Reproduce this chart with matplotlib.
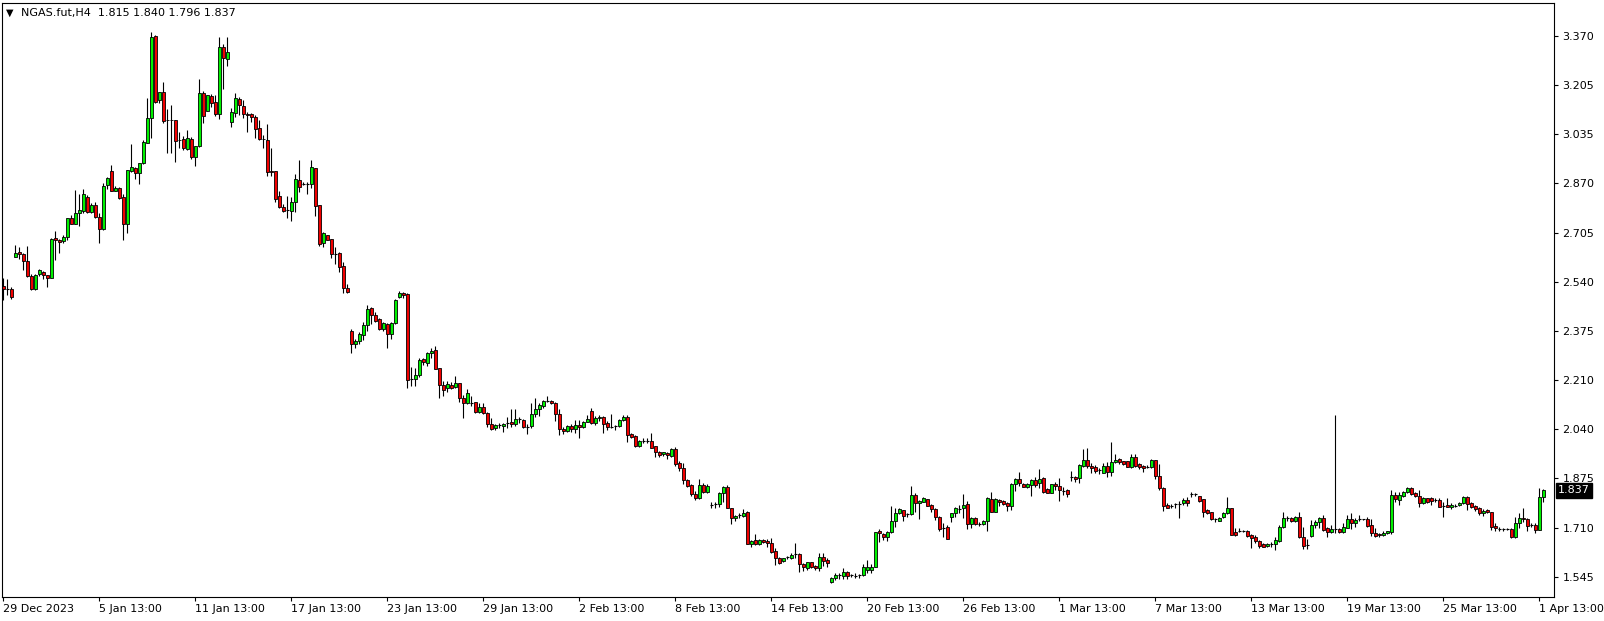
import matplotlib
matplotlib.use("Agg")
import matplotlib.pyplot as plt
import matplotlib.transforms as mtransforms
import numpy as np

# H4 candles, NGAS.fut (one row = 10 bars)
opens = [
    2.527, 2.515, 2.515, 2.625, 2.640, 2.633, 2.609, 2.560, 2.515, 2.567,
    2.574, 2.562, 2.554, 2.687, 2.681, 2.677, 2.690, 2.754, 2.734, 2.771,
    2.780, 2.826, 2.777, 2.798, 2.760, 2.720, 2.866, 2.914, 2.845, 2.856,
    2.826, 2.734, 2.915, 2.923, 2.906, 2.942, 3.010, 3.092, 3.369, 3.153,
    3.179, 3.086, 3.086, 3.086, 3.019, 3.022, 2.988, 3.022, 2.960, 2.998,
    3.176, 3.117, 3.168, 3.146, 3.105, 3.333, 3.292, 3.080, 3.108, 3.157,
    3.133, 3.107, 3.106, 3.097, 3.058, 3.023, 3.019, 2.914, 2.914, 2.830,
    2.791, 2.783, 2.780, 2.810, 2.884, 2.871, 2.871, 2.869, 2.925, 2.799,
    2.670, 2.697, 2.684, 2.635, 2.636, 2.595, 2.518, 2.374, 2.329, 2.341,
    2.361, 2.395, 2.451, 2.428, 2.415, 2.380, 2.398, 2.363, 2.402, 2.490,
    2.504, 2.499, 2.211, 2.211, 2.226, 2.279, 2.265, 2.299, 2.310, 2.248,
    2.192, 2.181, 2.192, 2.184, 2.198, 2.147, 2.130, 2.133, 2.134, 2.102,
    2.117, 2.099, 2.060, 2.046, 2.057, 2.054, 2.063, 2.066, 2.060, 2.076,
    2.074, 2.052, 2.054, 2.093, 2.110, 2.121, 2.138, 2.138, 2.131, 2.093,
    2.044, 2.038, 2.054, 2.043, 2.057, 2.049, 2.069, 2.105, 2.063, 2.082,
    2.084, 2.063, 2.049, 2.055, 2.055, 2.074, 2.084, 2.026, 2.021, 1.986,
    2.004, 2.003, 2.003, 1.986, 1.967, 1.958, 1.964, 1.954, 1.975, 1.928,
    1.913, 1.872, 1.855, 1.825, 1.810, 1.855, 1.830, 1.787, 1.790, 1.790,
    1.827, 1.847, 1.776, 1.742, 1.754, 1.750, 1.764, 1.655, 1.669, 1.656,
    1.669, 1.666, 1.658, 1.633, 1.608, 1.599, 1.611, 1.608, 1.621, 1.622,
    1.587, 1.574, 1.594, 1.583, 1.574, 1.611, 1.602, 1.527, 1.540, 1.551,
    1.549, 1.560, 1.551, 1.549, 1.551, 1.551, 1.568, 1.568, 1.577, 1.700,
    1.690, 1.678, 1.695, 1.733, 1.759, 1.771, 1.756, 1.757, 1.821, 1.793,
    1.799, 1.807, 1.787, 1.773, 1.748, 1.711, 1.712, 1.748, 1.759, 1.773,
    1.776, 1.790, 1.722, 1.745, 1.723, 1.723, 1.734, 1.808, 1.765, 1.804,
    1.801, 1.795, 1.785, 1.857, 1.875, 1.858, 1.849, 1.855, 1.872, 1.860,
    1.877, 1.840, 1.829, 1.858, 1.851, 1.836, 1.838, 1.881, 1.881, 1.877,
    1.920, 1.939, 1.919, 1.914, 1.905, 1.896, 1.919, 1.898, 1.931, 1.941,
    1.936, 1.936, 1.914, 1.948, 1.926, 1.919, 1.914, 1.917, 1.939, 1.885,
    1.844, 1.787, 1.784, 1.790, 1.791, 1.793, 1.804, 1.823, 1.823, 1.818,
    1.807, 1.771, 1.763, 1.739, 1.735, 1.746, 1.759, 1.776, 1.695, 1.701,
    1.701, 1.700, 1.686, 1.678, 1.667, 1.655, 1.649, 1.656, 1.655, 1.667,
    1.712, 1.742, 1.745, 1.735, 1.746, 1.678, 1.653, 1.683, 1.720, 1.729,
    1.742, 1.709, 1.695, 1.705, 1.706, 1.697, 1.711, 1.740, 1.726, 1.739,
    1.739, 1.740, 1.720, 1.692, 1.688, 1.686, 1.692, 1.697, 1.821, 1.804,
    1.819, 1.830, 1.844, 1.829, 1.819, 1.793, 1.810, 1.812, 1.804, 1.804,
    1.785, 1.786, 1.780, 1.784, 1.787, 1.793, 1.816, 1.793, 1.784, 1.776,
    1.759, 1.771, 1.763, 1.717, 1.705, 1.705, 1.706, 1.705, 1.681, 1.726,
    1.742, 1.739, 1.720, 1.720, 1.703, 1.815,
]
highs = [
    2.552, 2.549, 2.522, 2.664, 2.657, 2.636, 2.660, 2.567, 2.566, 2.585,
    2.578, 2.562, 2.689, 2.710, 2.685, 2.698, 2.754, 2.764, 2.850, 2.836,
    2.852, 2.833, 2.807, 2.811, 2.771, 2.872, 2.895, 2.934, 2.863, 2.861,
    2.836, 2.917, 3.005, 2.929, 2.942, 3.019, 3.160, 3.383, 3.373, 3.182,
    3.214, 3.122, 3.137, 3.086, 3.047, 3.032, 3.052, 3.028, 2.998, 3.223,
    3.185, 3.170, 3.174, 3.172, 3.365, 3.342, 3.365, 3.125, 3.176, 3.165,
    3.153, 3.114, 3.108, 3.103, 3.086, 3.036, 3.073, 2.991, 2.914, 2.847,
    2.803, 2.830, 2.826, 2.904, 2.951, 2.878, 2.876, 2.951, 2.925, 2.799,
    2.707, 2.697, 2.684, 2.657, 2.640, 2.606, 2.532, 2.381, 2.347, 2.370,
    2.404, 2.462, 2.456, 2.437, 2.419, 2.406, 2.400, 2.406, 2.482, 2.509,
    2.507, 2.501, 2.254, 2.251, 2.282, 2.282, 2.302, 2.318, 2.324, 2.248,
    2.206, 2.204, 2.201, 2.224, 2.198, 2.159, 2.179, 2.156, 2.136, 2.130,
    2.130, 2.100, 2.080, 2.061, 2.065, 2.065, 2.085, 2.110, 2.110, 2.083,
    2.076, 2.060, 2.130, 2.147, 2.130, 2.142, 2.155, 2.143, 2.134, 2.111,
    2.052, 2.057, 2.060, 2.074, 2.074, 2.071, 2.091, 2.116, 2.088, 2.091,
    2.088, 2.071, 2.094, 2.057, 2.077, 2.091, 2.091, 2.029, 2.024, 2.007,
    2.012, 2.015, 2.029, 1.986, 1.971, 1.967, 1.967, 1.979, 1.983, 1.936,
    1.928, 1.875, 1.858, 1.835, 1.874, 1.861, 1.857, 1.799, 1.799, 1.830,
    1.852, 1.855, 1.776, 1.754, 1.759, 1.774, 1.767, 1.669, 1.688, 1.672,
    1.672, 1.673, 1.677, 1.641, 1.613, 1.610, 1.615, 1.624, 1.658, 1.624,
    1.593, 1.596, 1.596, 1.585, 1.624, 1.627, 1.608, 1.543, 1.559, 1.559,
    1.574, 1.565, 1.555, 1.557, 1.555, 1.588, 1.602, 1.588, 1.697, 1.705,
    1.694, 1.701, 1.784, 1.776, 1.778, 1.771, 1.759, 1.852, 1.829, 1.804,
    1.813, 1.807, 1.791, 1.776, 1.750, 1.728, 1.720, 1.762, 1.782, 1.787,
    1.825, 1.802, 1.748, 1.748, 1.731, 1.737, 1.813, 1.831, 1.810, 1.807,
    1.804, 1.799, 1.861, 1.880, 1.898, 1.861, 1.863, 1.874, 1.883, 1.908,
    1.881, 1.844, 1.858, 1.866, 1.877, 1.849, 1.840, 1.902, 1.885, 1.926,
    1.976, 1.979, 1.930, 1.922, 1.911, 1.930, 1.934, 2.001, 1.958, 1.945,
    1.937, 1.937, 1.958, 1.959, 1.930, 1.922, 1.922, 1.943, 1.939, 1.926,
    1.847, 1.793, 1.791, 1.793, 1.801, 1.810, 1.813, 1.832, 1.829, 1.818,
    1.807, 1.773, 1.765, 1.742, 1.746, 1.763, 1.813, 1.776, 1.709, 1.709,
    1.703, 1.703, 1.690, 1.686, 1.669, 1.658, 1.658, 1.664, 1.678, 1.720,
    1.765, 1.750, 1.748, 1.750, 1.765, 1.712, 1.672, 1.737, 1.737, 1.748,
    1.754, 1.714, 1.720, 2.091, 1.709, 1.726, 1.754, 1.759, 1.742, 1.754,
    1.741, 1.746, 1.740, 1.709, 1.694, 1.700, 1.701, 1.838, 1.832, 1.832,
    1.835, 1.849, 1.847, 1.832, 1.838, 1.813, 1.812, 1.813, 1.810, 1.810,
    1.799, 1.812, 1.793, 1.791, 1.796, 1.818, 1.818, 1.799, 1.787, 1.780,
    1.773, 1.774, 1.765, 1.726, 1.714, 1.709, 1.711, 1.709, 1.748, 1.759,
    1.776, 1.742, 1.726, 1.726, 1.844, 1.840,
]
lows = [
    2.479, 2.496, 2.481, 2.623, 2.618, 2.580, 2.555, 2.513, 2.514, 2.560,
    2.551, 2.524, 2.552, 2.615, 2.639, 2.672, 2.680, 2.734, 2.734, 2.730,
    2.771, 2.771, 2.771, 2.755, 2.672, 2.715, 2.853, 2.845, 2.845, 2.818,
    2.681, 2.704, 2.912, 2.888, 2.870, 2.938, 3.007, 3.026, 3.144, 3.144,
    3.075, 2.976, 2.974, 2.946, 2.990, 2.985, 2.985, 2.956, 2.932, 2.994,
    3.075, 3.117, 3.129, 3.101, 3.090, 3.191, 3.268, 3.064, 3.097, 3.103,
    3.092, 3.047, 3.078, 3.024, 3.019, 2.991, 2.898, 2.898, 2.811, 2.790,
    2.775, 2.754, 2.747, 2.777, 2.844, 2.867, 2.838, 2.856, 2.763, 2.662,
    2.659, 2.680, 2.619, 2.602, 2.572, 2.504, 2.504, 2.299, 2.318, 2.329,
    2.343, 2.374, 2.398, 2.403, 2.378, 2.374, 2.316, 2.346, 2.397, 2.487,
    2.485, 2.181, 2.190, 2.190, 2.220, 2.260, 2.257, 2.282, 2.245, 2.150,
    2.156, 2.168, 2.179, 2.183, 2.136, 2.082, 2.128, 2.121, 2.099, 2.097,
    2.094, 2.052, 2.040, 2.040, 2.046, 2.035, 2.046, 2.052, 2.054, 2.065,
    2.046, 2.026, 2.048, 2.085, 2.088, 2.114, 2.134, 2.127, 2.072, 2.024,
    2.026, 2.035, 2.035, 2.029, 2.012, 2.046, 2.066, 2.060, 2.057, 2.071,
    2.031, 2.040, 2.048, 2.040, 2.052, 2.071, 2.001, 2.012, 1.982, 1.984,
    1.995, 1.995, 1.979, 1.950, 1.950, 1.954, 1.943, 1.949, 1.919, 1.902,
    1.858, 1.849, 1.819, 1.804, 1.807, 1.827, 1.827, 1.776, 1.778, 1.782,
    1.799, 1.776, 1.722, 1.734, 1.742, 1.748, 1.655, 1.645, 1.653, 1.653,
    1.658, 1.645, 1.624, 1.585, 1.588, 1.596, 1.604, 1.604, 1.608, 1.563,
    1.566, 1.568, 1.574, 1.568, 1.566, 1.582, 1.579, 1.525, 1.534, 1.537,
    1.537, 1.537, 1.544, 1.542, 1.542, 1.548, 1.557, 1.559, 1.577, 1.664,
    1.669, 1.667, 1.692, 1.712, 1.757, 1.735, 1.746, 1.754, 1.765, 1.740,
    1.796, 1.785, 1.765, 1.737, 1.701, 1.681, 1.672, 1.731, 1.748, 1.759,
    1.742, 1.708, 1.709, 1.720, 1.717, 1.720, 1.701, 1.765, 1.763, 1.785,
    1.787, 1.768, 1.771, 1.835, 1.853, 1.847, 1.846, 1.819, 1.849, 1.844,
    1.829, 1.827, 1.827, 1.838, 1.802, 1.821, 1.816, 1.868, 1.864, 1.860,
    1.917, 1.913, 1.894, 1.894, 1.891, 1.894, 1.881, 1.886, 1.928, 1.926,
    1.922, 1.914, 1.913, 1.917, 1.909, 1.900, 1.911, 1.913, 1.875, 1.838,
    1.768, 1.776, 1.778, 1.778, 1.745, 1.787, 1.784, 1.815, 1.818, 1.799,
    1.748, 1.757, 1.737, 1.729, 1.733, 1.742, 1.756, 1.686, 1.684, 1.695,
    1.696, 1.681, 1.643, 1.658, 1.643, 1.645, 1.647, 1.647, 1.636, 1.664,
    1.709, 1.733, 1.731, 1.731, 1.675, 1.638, 1.638, 1.681, 1.709, 1.709,
    1.701, 1.681, 1.692, 1.694, 1.694, 1.694, 1.709, 1.705, 1.714, 1.735,
    1.737, 1.714, 1.683, 1.678, 1.681, 1.683, 1.690, 1.690, 1.799, 1.787,
    1.816, 1.828, 1.821, 1.813, 1.782, 1.791, 1.793, 1.787, 1.799, 1.780,
    1.748, 1.780, 1.773, 1.782, 1.785, 1.791, 1.771, 1.776, 1.768, 1.755,
    1.750, 1.759, 1.703, 1.701, 1.701, 1.701, 1.703, 1.677, 1.677, 1.709,
    1.731, 1.701, 1.714, 1.694, 1.703, 1.796,
]
closes = [
    2.515, 2.515, 2.488, 2.636, 2.633, 2.609, 2.560, 2.517, 2.562, 2.580,
    2.562, 2.554, 2.685, 2.680, 2.673, 2.690, 2.754, 2.734, 2.771, 2.782,
    2.836, 2.775, 2.798, 2.760, 2.720, 2.865, 2.889, 2.845, 2.857, 2.824,
    2.734, 2.917, 2.929, 2.906, 2.942, 3.011, 3.092, 3.365, 3.148, 3.179,
    3.084, 3.085, 3.087, 3.016, 3.018, 2.990, 3.024, 2.960, 2.998, 3.176,
    3.101, 3.170, 3.144, 3.107, 3.331, 3.294, 3.314, 3.112, 3.159, 3.135,
    3.105, 3.103, 3.097, 3.055, 3.021, 3.022, 2.910, 2.910, 2.820, 2.791,
    2.780, 2.783, 2.810, 2.887, 2.859, 2.871, 2.871, 2.928, 2.797, 2.669,
    2.704, 2.680, 2.633, 2.635, 2.591, 2.518, 2.507, 2.329, 2.341, 2.363,
    2.395, 2.447, 2.428, 2.408, 2.381, 2.400, 2.363, 2.400, 2.479, 2.501,
    2.496, 2.208, 2.211, 2.226, 2.277, 2.269, 2.299, 2.307, 2.245, 2.192,
    2.174, 2.196, 2.183, 2.198, 2.147, 2.130, 2.164, 2.133, 2.102, 2.117,
    2.099, 2.060, 2.043, 2.057, 2.057, 2.061, 2.063, 2.060, 2.076, 2.076,
    2.052, 2.052, 2.093, 2.111, 2.125, 2.138, 2.138, 2.130, 2.093, 2.043,
    2.038, 2.054, 2.043, 2.057, 2.049, 2.066, 2.077, 2.063, 2.082, 2.085,
    2.060, 2.052, 2.049, 2.055, 2.074, 2.084, 2.024, 2.018, 1.986, 2.003,
    2.004, 2.003, 1.981, 1.967, 1.956, 1.965, 1.956, 1.975, 1.926, 1.913,
    1.872, 1.852, 1.825, 1.812, 1.855, 1.830, 1.852, 1.787, 1.790, 1.827,
    1.847, 1.776, 1.742, 1.750, 1.754, 1.762, 1.655, 1.666, 1.656, 1.669,
    1.662, 1.658, 1.630, 1.608, 1.593, 1.608, 1.611, 1.619, 1.621, 1.587,
    1.577, 1.594, 1.577, 1.574, 1.611, 1.600, 1.591, 1.540, 1.551, 1.551,
    1.560, 1.549, 1.551, 1.549, 1.551, 1.577, 1.579, 1.577, 1.695, 1.692,
    1.681, 1.695, 1.733, 1.759, 1.774, 1.751, 1.756, 1.821, 1.793, 1.801,
    1.810, 1.785, 1.773, 1.748, 1.708, 1.711, 1.672, 1.759, 1.776, 1.773,
    1.787, 1.722, 1.745, 1.723, 1.723, 1.734, 1.810, 1.765, 1.808, 1.796,
    1.791, 1.785, 1.858, 1.875, 1.861, 1.849, 1.858, 1.872, 1.855, 1.875,
    1.832, 1.829, 1.857, 1.853, 1.838, 1.836, 1.823, 1.881, 1.875, 1.922,
    1.939, 1.919, 1.913, 1.902, 1.905, 1.919, 1.900, 1.931, 1.939, 1.931,
    1.925, 1.917, 1.948, 1.920, 1.914, 1.911, 1.914, 1.939, 1.886, 1.846,
    1.785, 1.778, 1.784, 1.790, 1.791, 1.804, 1.795, 1.823, 1.823, 1.802,
    1.765, 1.762, 1.739, 1.739, 1.742, 1.759, 1.776, 1.686, 1.686, 1.701,
    1.701, 1.684, 1.675, 1.667, 1.650, 1.647, 1.656, 1.656, 1.669, 1.712,
    1.742, 1.742, 1.733, 1.746, 1.678, 1.650, 1.653, 1.720, 1.729, 1.745,
    1.703, 1.695, 1.705, 1.705, 1.695, 1.712, 1.740, 1.726, 1.737, 1.739,
    1.739, 1.718, 1.692, 1.684, 1.686, 1.694, 1.701, 1.821, 1.808, 1.821,
    1.830, 1.844, 1.825, 1.819, 1.793, 1.810, 1.796, 1.802, 1.804, 1.782,
    1.785, 1.782, 1.787, 1.784, 1.793, 1.816, 1.791, 1.782, 1.773, 1.759,
    1.768, 1.763, 1.714, 1.709, 1.705, 1.705, 1.706, 1.681, 1.726, 1.742,
    1.739, 1.717, 1.720, 1.703, 1.813, 1.837,
]

date_labels = ["29 Dec 2023", "5 Jan 13:00", "11 Jan 13:00", "17 Jan 13:00",
               "23 Jan 13:00", "29 Jan 13:00", "2 Feb 13:00", "8 Feb 13:00",
               "14 Feb 13:00", "20 Feb 13:00", "26 Feb 13:00", "1 Mar 13:00",
               "7 Mar 13:00", "13 Mar 13:00", "19 Mar 13:00", "25 Mar 13:00",
               "1 Apr 13:00"]
bars_per_label = 24
price_labels = ["3.370", "3.205", "3.035", "2.870", "2.705", "2.540",
                "2.375", "2.210", "2.040", "1.875", "1.710", "1.545"]

symbol = "NGAS.fut,H4"
BULL = "#00f000"
BEAR = "#f00000"

o = np.array(opens)
h = np.array(highs)
l = np.array(lows)
c = np.array(closes)
x = np.arange(len(o))
up = c > o
down = c < o
flat = c == o

W, H = 1604, 621
fig = plt.figure(figsize=(W / 100, H / 100), dpi=100)
ax = fig.add_axes([2.3 / W, 24.3 / H, (1554 - 2.3) / W, (596.7 - 2.7) / H])

ax.vlines(x, l, h, color="black", linewidth=0.8, zorder=1)
ax.bar(x[up], (c - o)[up], bottom=o[up], width=0.62, color=BULL,
       edgecolor="black", linewidth=0.6, zorder=2)
ax.bar(x[down], (o - c)[down], bottom=c[down], width=0.62, color=BEAR,
       edgecolor="black", linewidth=0.6, zorder=2)
ax.hlines(o[flat], x[flat] - 0.35, x[flat] + 0.35, color="black",
          linewidth=0.8, zorder=2)

ax.set_xlim(-0.25, 387.675)
ax.set_ylim(1.4781, 3.4817)

for sp in ax.spines.values():
    sp.set_color("black")
    sp.set_linewidth(0.8)

ax.set_xticks(np.arange(len(date_labels)) * bars_per_label)
ax.set_xticklabels(date_labels, ha="left")
ax.tick_params(axis="x", length=3, width=0.8, pad=2, labelsize=8,
               direction="out", colors="black")

ax.yaxis.tick_right()
ax.set_yticks(np.linspace(float(price_labels[0]), float(price_labels[-1]),
                          len(price_labels)))
ax.set_yticklabels(price_labels)
ax.tick_params(axis="y", length=3, width=0.8, pad=3, labelsize=8,
               direction="out", colors="black")

# last price marker on the price scale
trans = mtransforms.offset_copy(
    mtransforms.blended_transform_factory(ax.transAxes, ax.transData),
    fig=fig, x=4, y=0, units="dots")
ax.text(1.0, c[-1], "%.3f" % c[-1], transform=trans, ha="left", va="center",
        color="white", fontsize=8, clip_on=False, zorder=5,
        bbox=dict(boxstyle="square,pad=0.2", fc="black", ec="black"))

# header with symbol and OHLC of the last bar
fig.text(6 / W, 1 - 13 / H, "\u25bc", fontsize=7, va="center", ha="left")
fig.text(21 / W, 1 - 13 / H,
         "%s  %.3f %.3f %.3f %.3f" % (symbol, o[-1], h[-1], l[-1], c[-1]),
         fontsize=8, va="center", ha="left", color="black")

fig.savefig("out.png", dpi=100)
